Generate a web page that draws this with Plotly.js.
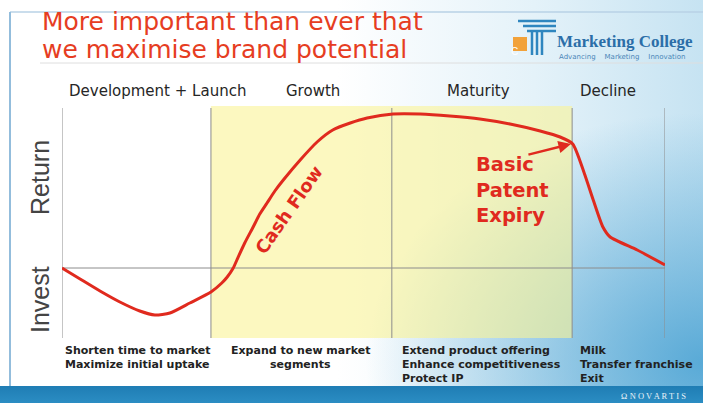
<!DOCTYPE html>
<html>
<head>
<meta charset="utf-8">
<script src="https://cdn.plot.ly/plotly-3.0.1.min.js"></script>
<style>
  html, body { margin: 0; padding: 0; }
  #chart {
    width: 703px; height: 403px;
    background:
      linear-gradient(to bottom, rgba(0,0,0,0) 0px, rgba(0,0,0,0) 386px, #1f7db4 386px, #2b8dc3 403px),
      radial-gradient(ellipse 48% 62% at 100% 90%, rgba(70,160,210,0.85), rgba(70,160,210,0) 100%),
      linear-gradient(to right, #ffffff 0%, #ffffff 48%, #e4f2f9 76%, #c6e3f2 100%);
  }
</style>
</head>
<body>
<div id="chart"></div>
<script>
// ---- Data ----
const phaseNames = ["Development + Launch", "Growth", "Maturity", "Decline"];
const phaseBounds = [0, 24.7, 54.7, 84.6, 100];
const curveX = [0, 3, 6.3, 9.6, 12.9, 15.4, 17.9, 21.2, 24.7, 26.5, 27.4, 28.4, 29.0, 30.3, 31.7, 32.8, 34.0, 35.3, 36.7, 39.5, 42.3, 44.9, 47.8, 50.6, 54.9, 59.4, 64.3, 69.3, 74.3, 79.3, 82.6, 84.7, 86.6, 88.1, 89.7, 90.9, 95.4, 100];
const curveY = [0, -11, -23, -34, -43, -47, -45, -35, -24, -15, -9, 0, 8, 25, 41, 54, 65, 77, 88, 108, 126, 138, 145, 150, 154, 154, 152, 149, 144, 137, 131, 124, 95, 68, 41, 31, 18, 3];
const phaseActions = [
  ["Shorten time to market", "Maximize initial uptake"],
  ["Expand to new market", "segments"],
  ["Extend product offering", "Enhance competitiveness", "Protect IP"],
  ["Milk", "Transfer franchise", "Exit"]
];
const titleLines = ["More important than ever that", "we maximise brand potential"];
const patentLabel = ["Basic", "Patent", "Expiry"];

// ---- Layout helpers (pixel -> paper) ----
const W = 703, H = 403;
const P = px => px / W;
const Q = py => 1 - py / H;
const RED = "#e02a1e";
const SANS = "DejaVu Sans, Liberation Sans, Arial";

const shapes = [];
const annotations = [];

// slide frame
shapes.push({type: "line", xref: "paper", yref: "paper", x0: P(10), x1: P(703), y0: Q(12), y1: Q(12), line: {color: "#b9d2e6", width: 1.5}, layer: "below"});
shapes.push({type: "line", xref: "paper", yref: "paper", x0: P(10), x1: P(10), y0: Q(12), y1: Q(386), line: {color: "#93bddc", width: 2}, layer: "below"});
shapes.push({type: "line", xref: "paper", yref: "paper", x0: P(40), x1: P(703), y0: Q(63), y1: Q(63), line: {color: "#dedede", width: 1}, layer: "below"});

// yellow growth + maturity area
shapes.push({type: "rect", xref: "x", yref: "y", x0: phaseBounds[1], x1: phaseBounds[3], y0: -70, y1: 162,
  fillcolor: "rgba(250,243,150,0.6)", line: {width: 0}, layer: "below"});

// phase boundary lines
phaseBounds.forEach(b => {
  shapes.push({type: "line", xref: "x", yref: "y", x0: b, x1: b, y0: -70, y1: 160, line: {color: "#8c8c8c", width: 1}, layer: "below"});
});
// zero line
shapes.push({type: "line", xref: "x", yref: "y", x0: 0, x1: 100, y0: 0, y1: 0, line: {color: "#8c8c8c", width: 1}, layer: "below"});

// logo (Marketing College)
shapes.push({type: "rect", xref: "paper", yref: "paper", x0: P(513), x1: P(527), y0: Q(51), y1: Q(37), fillcolor: "#f2a23a", line: {width: 0}});
[[518, 556, 21], [523, 556, 26], [527, 556, 31]].forEach(b => {
  shapes.push({type: "line", xref: "paper", yref: "paper", x0: P(b[0]), x1: P(b[1]), y0: Q(b[2]), y1: Q(b[2]), line: {color: "#2f86bf", width: 2.5}});
});
[532, 537, 542].forEach(x => {
  shapes.push({type: "line", xref: "paper", yref: "paper", x0: P(x), x1: P(x), y0: Q(31), y1: Q(55), line: {color: "#2f86bf", width: 2.5}});
});
annotations.push({xref: "paper", yref: "paper", x: P(520), y: Q(44), text: "C", showarrow: false, font: {family: "Liberation Sans, Arial", size: 10, color: "#ffffff"}});
annotations.push({xref: "paper", yref: "paper", x: P(555), y: Q(42), xanchor: "left", yanchor: "middle", text: "<b>Marketing College</b>", showarrow: false,
  font: {family: "Liberation Serif, DejaVu Serif, serif", size: 17, color: "#2b6ea8"}});
annotations.push({xref: "paper", yref: "paper", x: P(557), y: Q(57), xanchor: "left", yanchor: "middle", text: "Advancing    Marketing    Innovation", showarrow: false,
  font: {family: SANS, size: 7, color: "#4a86b8"}});

// title
titleLines.forEach((t, i) => {
  annotations.push({xref: "paper", yref: "paper", x: P(40), y: Q(22 + i * 27), xanchor: "left", yanchor: "middle", text: t, showarrow: false,
    font: {family: SANS, size: 25, color: "#e63d22"}});
});

// phase names
const phaseLabelPx = [157, 313, 478, 608];
phaseNames.forEach((n, i) => {
  annotations.push({xref: "paper", yref: "paper", x: P(phaseLabelPx[i]), y: Q(91), xanchor: "center", yanchor: "middle", text: n, showarrow: false,
    font: {family: SANS, size: 15, color: "#262626"}});
});

// Return / Invest
annotations.push({xref: "paper", yref: "paper", x: P(40), y: Q(178), text: "Return", textangle: -90, showarrow: false, xanchor: "center", yanchor: "middle",
  font: {family: "Liberation Sans, Arial", size: 25, color: "#444"}});
annotations.push({xref: "paper", yref: "paper", x: P(40), y: Q(300), text: "Invest", textangle: -90, showarrow: false, xanchor: "center", yanchor: "middle",
  font: {family: "Liberation Sans, Arial", size: 25, color: "#444"}});

// Cash Flow
annotations.push({xref: "x", yref: "y", x: 37.6, y: 59, text: "<b>Cash Flow</b>", textangle: -55, showarrow: false,
  font: {family: SANS, size: 18, color: RED}});

// Basic Patent Expiry
patentLabel.forEach((t, i) => {
  annotations.push({xref: "paper", yref: "paper", x: P(474), y: Q(164 + i * 26), xanchor: "left", yanchor: "middle", text: "<b>" + t + "</b>", showarrow: false,
    font: {family: SANS, size: 19.5, color: RED}});
});
annotations.push({xref: "x", yref: "y", x: 84.4, y: 124, ax: -44, ay: 11, text: "", showarrow: true, arrowhead: 2, arrowsize: 1, arrowwidth: 2.5, arrowcolor: RED});

// actions below phases
const actionPx = [[63, "left"], [300, "center"], [400, "left"], [578, "left"]];
phaseActions.forEach((lines, i) => {
  lines.forEach((t, j) => {
    annotations.push({xref: "paper", yref: "paper", x: P(actionPx[i][0]), y: Q(350 + j * 14), xanchor: actionPx[i][1], yanchor: "middle",
      text: "<b>" + t + "</b>", showarrow: false, font: {family: SANS, size: 11, color: "#222"}});
  });
});

// Novartis
annotations.push({xref: "paper", yref: "paper", x: P(688), y: Q(396), xanchor: "right", yanchor: "middle", text: "&#8486; N O V A R T I S", showarrow: false,
  font: {family: "Liberation Serif, serif", size: 8.5, color: "#e8f2f8"}});

const trace = {
  x: curveX, y: curveY, type: "scatter", mode: "lines",
  line: {color: RED, width: 3, shape: "spline", smoothing: 0.6},
  hoverinfo: "skip", showlegend: false
};

const layout = {
  width: W, height: H,
  margin: {l: 0, r: 0, t: 0, b: 0},
  paper_bgcolor: "rgba(0,0,0,0)",
  plot_bgcolor: "rgba(0,0,0,0)",
  showlegend: false,
  xaxis: {domain: [62 / W, 665 / W], range: [0, 100], visible: false, fixedrange: true},
  yaxis: {domain: [Q(338), Q(106)], range: [-70, 162], visible: false, fixedrange: true},
  shapes: shapes,
  annotations: annotations
};

Plotly.newPlot("chart", [trace], layout, {staticPlot: true});
</script>
</body>
</html>
